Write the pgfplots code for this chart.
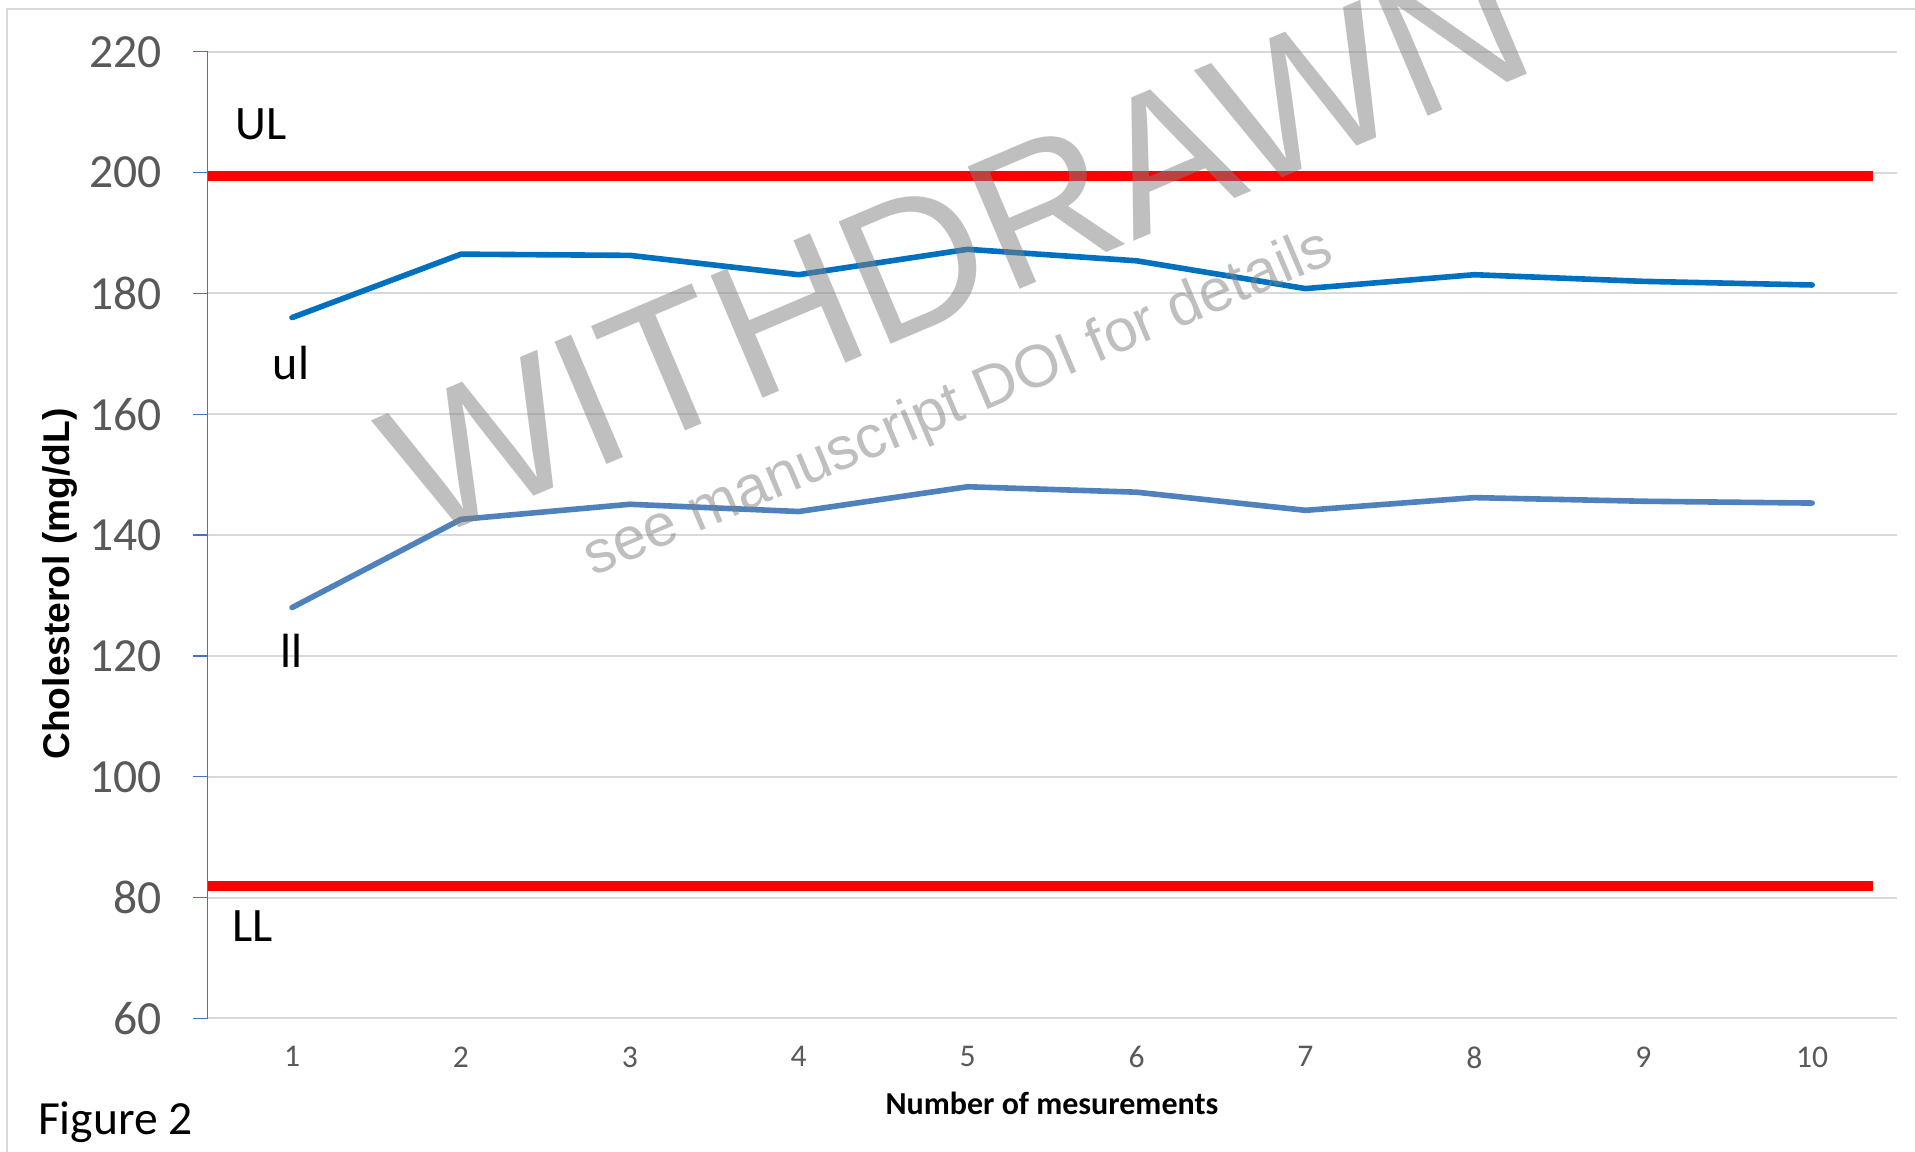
\documentclass[border=0pt]{standalone}
\usepackage{pgfplots}
\pgfplotsset{compat=1.18}
\usepackage{fontspec}
\setmainfont{Carlito}
\newfontfamily\arialfont{Liberation Sans}
\definecolor{ulblue}{RGB}{0,112,192}
\definecolor{llblue}{RGB}{79,129,189}
\definecolor{axblue}{RGB}{68,114,196}
\definecolor{gridgray}{RGB}{217,217,217}
\definecolor{ticktext}{RGB}{89,89,89}
\definecolor{wmgray}{RGB}{128,128,128}

\pgfplotstableread{
x ul ll
1 176.0 128.0
2 186.5 142.6
3 186.3 145.1
4 183.1 143.9
5 187.3 148.0
6 185.4 147.1
7 180.8 144.1
8 183.1 146.2
9 182.0 145.6
10 181.4 145.3
}\datatable

\begin{document}
\begin{tikzpicture}
\useasboundingbox (0,0) rectangle (478.75pt,288pt);
\draw[gridgray, line width=0.6pt] (1.7pt,-5pt) -- (1.7pt,285.7pt) -- (490pt,285.7pt);
\begin{axis}[
  at={(51.9pt,33.4pt)}, anchor=south west,
  scale only axis, width=422.25pt, height=241.65pt,
  xmin=0.5, xmax=10.5, ymin=60, ymax=220,
  axis lines=left,
  axis line style={-},
  x axis line style={draw=gridgray, line width=0.5pt},
  y axis line style={draw=axblue, line width=0.35pt},
  xtick={1,...,10}, ytick={60,80,...,220},
  ymajorgrids, grid style={gridgray, line width=0.5pt},
  tick align=outside,
  major tick length=3.7pt,
  ytick style={draw=axblue, line width=0.35pt},
  xtick style={draw=none},
  /pgf/number format/assume math mode=true,
  yticklabel style={font=\fontsize{11.9}{12}\selectfont, text=ticktext, inner sep=0pt, anchor=east, xshift=-7.5pt},
  xticklabel style={font=\fontsize{7.9}{8}\selectfont, text=ticktext, inner sep=0pt, anchor=north, yshift=-3.15pt},
  clip=false,
]
\addplot[red, line width=2.5pt, line cap=butt] coordinates {(0.5,199.5) (10.36,199.5)};
\addplot[red, line width=2.5pt, line cap=butt] coordinates {(0.5,81.9) (10.36,81.9)};
\addplot[ulblue, line width=1.4pt, line join=round, line cap=round] table[x=x, y=ul] {\datatable};
\addplot[llblue, line width=1.4pt, line join=round, line cap=round] table[x=x, y=ll] {\datatable};
\end{axis}
\node[anchor=base west, inner sep=0pt, font=\fontsize{12}{12}\selectfont] at (58.75pt,253pt) {UL};
\node[anchor=base west, inner sep=0pt, font=\fontsize{12}{12}\selectfont] at (68pt,193pt) {ul};
\node[anchor=base west, inner sep=0pt, font=\fontsize{12}{12}\selectfont] at (69.9pt,121pt) {ll};
\node[anchor=base west, inner sep=0pt, font=\fontsize{12}{12}\selectfont] at (58pt,52.5pt) {LL};
\node[anchor=base west, inner sep=0pt, font=\fontsize{11.9}{12}\selectfont] at (9.3pt,4.25pt) {Figure 2};
\node[anchor=base, inner sep=0pt, font=\bfseries\fontsize{8.0}{8}\selectfont] at (263pt,9.25pt) {Number of mesurements};
\node[rotate=90, inner sep=0pt, font=\arialfont\bfseries\fontsize{9.3}{10}\selectfont] at (15pt,142pt) {Cholesterol (mg/dL)};
\node[rotate=23, inner sep=0pt, text=wmgray, text opacity=0.5, font=\arialfont\fontsize{48.3}{49}\selectfont] at (239pt,226.9pt) {WITHDRAWN};
\node[rotate=23, inner sep=0pt, text=wmgray, text opacity=0.5, font=\arialfont\fontsize{15}{15}\selectfont] at (239.7pt,186.8pt) {see manuscript DOI for details};
\end{tikzpicture}
\end{document}
